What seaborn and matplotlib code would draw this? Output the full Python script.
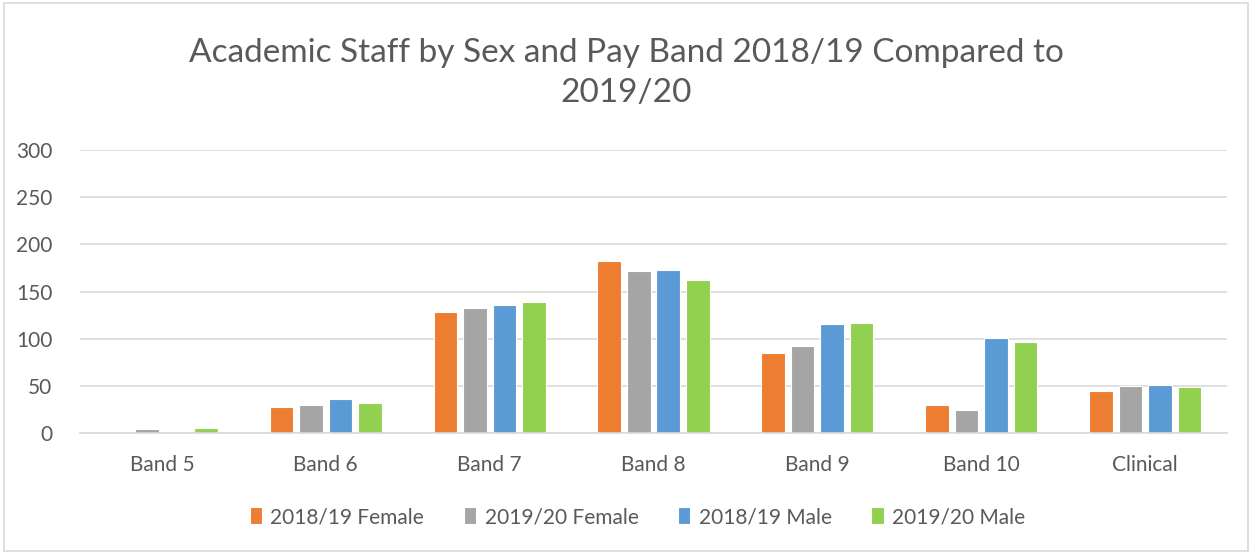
import pandas as pd
import matplotlib.pyplot as plt
import seaborn as sns
from matplotlib.patches import Rectangle

# Values
bands = ["Band 5", "Band 6", "Band 7", "Band 8", "Band 9", "Band 10", "Clinical"]
series = ["2018/19 Female", "2019/20 Female", "2018/19 Male", "2019/20 Male"]
female_1819 = [0, 28, 128, 182, 85, 30, 45]
female_1920 = [4, 30, 133, 172, 92, 24, 50]
male_1819 = [0, 36, 136, 173, 116, 101, 51]
male_1920 = [5, 32, 139, 162, 117, 96, 49]
colors = ["#ED7D31", "#A5A5A5", "#5B9BD5", "#92D050"]

rows = []
for name, vals in zip(series, [female_1819, female_1920, male_1819, male_1920]):
    for band, v in zip(bands, vals):
        rows.append({"Band": band, "Series": name, "Count": v})
data = pd.DataFrame(rows)

sns.set_style("white")
plt.rcParams["font.family"] = ["Lato", "DejaVu Sans"]

fig = plt.figure(figsize=(12.53, 5.53), dpi=100)
ax = fig.add_axes([80 / 1253, 1 - 433 / 553, 1147 / 1253, 283 / 553])

sns.barplot(
    data=data,
    x="Band",
    y="Count",
    hue="Series",
    order=bands,
    hue_order=series,
    palette=colors,
    saturation=1,
    width=0.72,
    gap=0.2,
    edgecolor="white",
    linewidth=0.8,
    ax=ax,
)

ax.set_ylim(0, 300)
ax.set_yticks(range(0, 301, 50))
ax.set_xlim(-0.5, len(bands) - 0.5)
ax.grid(axis="y", color="#D9D9D9", linewidth=1.2)
ax.set_axisbelow(True)
for side in ["top", "right", "left"]:
    ax.spines[side].set_visible(False)
ax.spines["bottom"].set_color("#D9D9D9")
ax.spines["bottom"].set_linewidth(1.2)
ax.tick_params(axis="both", length=0, labelsize=15, labelcolor="#595959")
ax.tick_params(axis="x", pad=16)
ax.tick_params(axis="y", pad=20)
ax.set_xlabel("")
ax.set_ylabel("")

fig.text(0.5, 0.868, "Academic Staff by Sex and Pay Band 2018/19 Compared to\n2019/20",
         ha="center", va="center", fontsize=24, color="#595959", linespacing=1.45)

handles, labels = ax.get_legend_handles_labels()
ax.legend(handles, labels, loc="center", bbox_to_anchor=(0.486, (517 - 433) / -283),
          ncol=4, frameon=False, fontsize=15, handlelength=0.6, handleheight=0.9,
          handletextpad=0.4, columnspacing=1.9, labelcolor="#595959")

fig.patches.append(Rectangle((4 / 1253, 2 / 553), 1244 / 1253, 548 / 553, transform=fig.transFigure,
                             fill=False, edgecolor="#D9D9D9", linewidth=1.2))

fig.savefig("out.png", dpi=100, facecolor="white")
